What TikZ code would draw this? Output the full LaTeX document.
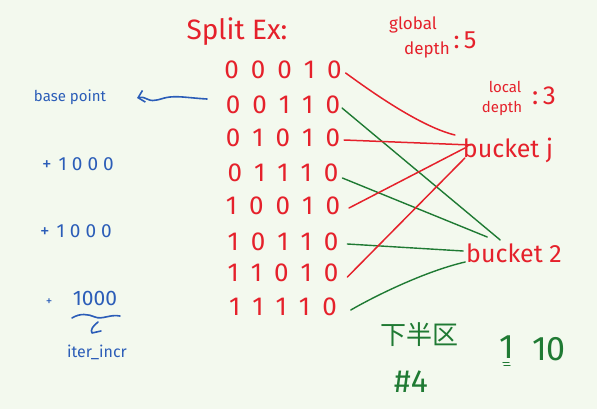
\documentclass[tikz,border=0pt]{standalone}
\usepackage{fontspec}
\setmainfont{Fira Sans}
\newfontfamily\cjk{Noto Sans CJK SC}
\usetikzlibrary{arrows.meta,calc}
\definecolor{bg}{HTML}{F3F9EE}
\definecolor{hred}{HTML}{E5212B}
\definecolor{hgreen}{HTML}{1F7A33}
\definecolor{hblue}{HTML}{2B5DB8}
\newcommand\bits[5]{#1\hspace{12pt}#2\hspace{12pt}#3\hspace{12pt}#4\hspace{12pt}#5}
\begin{document}
\begin{tikzpicture}[x=1pt,y=-1pt,
  txt/.style={inner sep=0pt,outer sep=0pt},
  redtxt/.style={txt,text=hred},
  bluetxt/.style={txt,text=hblue},
  greentxt/.style={txt,text=hgreen},
  bitrow/.style={redtxt,font=\fontsize{26}{28}\selectfont},
  bucket/.style={redtxt,font=\fontsize{25}{27}\selectfont},
  redline/.style={draw=hred,line width=1.5pt,line cap=round},
  greenline/.style={draw=hgreen,line width=1.4pt,line cap=round},
  blueline/.style={draw=hblue,line width=1.6pt,line cap=round,line join=round}]
\fill[bg] (0,0) rectangle (597,409);
\useasboundingbox (0,0) rectangle (597,409);

% title and depths
\node[redtxt,font=\fontsize{28}{30}\selectfont] (title) at (237,32) {Split Ex:};
\node[redtxt,font=\fontsize{17}{19}\selectfont] (gd1) at (413,25) {global};
\node[redtxt,font=\fontsize{17}{19}\selectfont] (gd2) at (427,50) {depth};
\node[redtxt,font=\fontsize{25}{27}\selectfont] (gdv) at (465,40) {:\,5};
\node[redtxt,font=\fontsize{15}{17}\selectfont] (ld1) at (505,87) {local};
\node[redtxt,font=\fontsize{15}{17}\selectfont] (ld2) at (502,108) {depth};
\node[redtxt,font=\fontsize{26}{28}\selectfont] (ldv) at (544,96) {:\,3};

% bit rows
\node[bitrow] (r1) at (283,70) {\bits00010};
\node[bitrow] (r2) at (283,105) {\bits00110};
\node[bitrow] (r3) at (283,138) {\bits01010};
\node[bitrow] (r4) at (283,173) {\bits01110};
\node[bitrow] (r5) at (283,206) {\bits10010};
\node[bitrow] (r6) at (283,242) {\bits10110};
\node[bitrow] (r7) at (283,273) {\bits11010};
\node[bitrow] (r8) at (283,307) {\bits11110};

% buckets
\node[bucket] (bj) at (508,150) {bucket j};
\node[bucket] (b2) at (514,253) {bucket 2};

% connectors
\draw[redline] ($(r1.east)+(4,3)$) .. controls ($(r1.east)+(22,16)$) and ($(bj.west)+(-45,-24)$) .. ($(bj.west)+(-8,-15)$);
\draw[greenline] ($(r2.east)+(2,3)$) -- ($(b2.west)+(34,-13)$);
\draw[redline] ($(r3.east)+(4,2)$) -- ($(bj.west)+(8,-5)$);
\draw[greenline] ($(r4.east)+(4,5)$) -- ($(b2.west)+(21,-16)$);
\draw[redline] ($(r5.east)+(9,2)$) -- ($(bj.west)+(2,-2)$);
\draw[greenline] ($(r6.east)+(9,2)$) -- ($(b2.west)+(-3,-2)$);
\draw[redline] ($(r7.east)+(9,4)$) -- ($(bj.west)+(2,8)$);
\draw[greenline] ($(r8.east)+(14,3)$) .. controls ($(r8.east)+(40,-12)$) and ($(b2.west)+(-40,18)$) .. ($(b2.west)+(-1,9)$);

% left blue annotations
\node[bluetxt,font=\fontsize{15}{16}\selectfont] (bp) at (70,97) {base point};
\coordinate (sqs) at (207,99);
\coordinate (sqe) at (137,98);
\draw[blueline,-{Straight Barb[length=6pt,width=12pt,line width=1.6pt]}] (sqs) .. controls (190,98) and (180,96) .. (170,97) .. controls (160,98) and (155,103) .. (147,99) .. controls (143,97) and (141,97) .. (sqe);
\node[bluetxt,font=\fontsize{19}{20}\selectfont] (p1) at (78,164) {+\hspace{7pt}1\hspace{5pt}0\hspace{5pt}0\hspace{5pt}0};
\node[bluetxt,font=\fontsize{19}{20}\selectfont] (p2) at (76,231) {+\hspace{7pt}1\hspace{5pt}0\hspace{5pt}0\hspace{5pt}0};
\node[bluetxt,font=\fontsize{13}{14}\selectfont] (p3p) at (49,302) {+};
\node[bluetxt,font=\fontsize{21}{22}\selectfont] (p3) at (95,298) {1000};
\draw[blueline] (72,318) .. controls (80,313) and (88,314) .. (95,317) .. controls (102,320) and (110,314) .. (120,316);
\draw[blueline] (98,322) .. controls (93,326) and (90,330) .. (92,333) -- (101,331);
\node[bluetxt,font=\fontsize{16}{17}\selectfont] (ii) at (97,352) {iter\_incr};

% green annotations
\node[greentxt,font=\cjk\fontsize{26}{28}\selectfont] (xb) at (419,335) {下半区};
\node[greentxt,font=\fontsize{32}{34}\selectfont] (h4) at (411,382) {\#4};
\node[greentxt,font=\fontsize{34}{36}\selectfont] (one) at (507,347) {1};
\node[greentxt,font=\fontsize{34}{36}\selectfont] (ten) at (549,349) {10};
\draw[greenline,line width=1.1pt] ($(one.south)+(-4,4)$) -- ($(one.south)+(2,4)$);
\draw[greenline,line width=1.1pt] ($(one.south)+(-3,7)$) -- ($(one.south)+(3,7)$);
\end{tikzpicture}
\end{document}
